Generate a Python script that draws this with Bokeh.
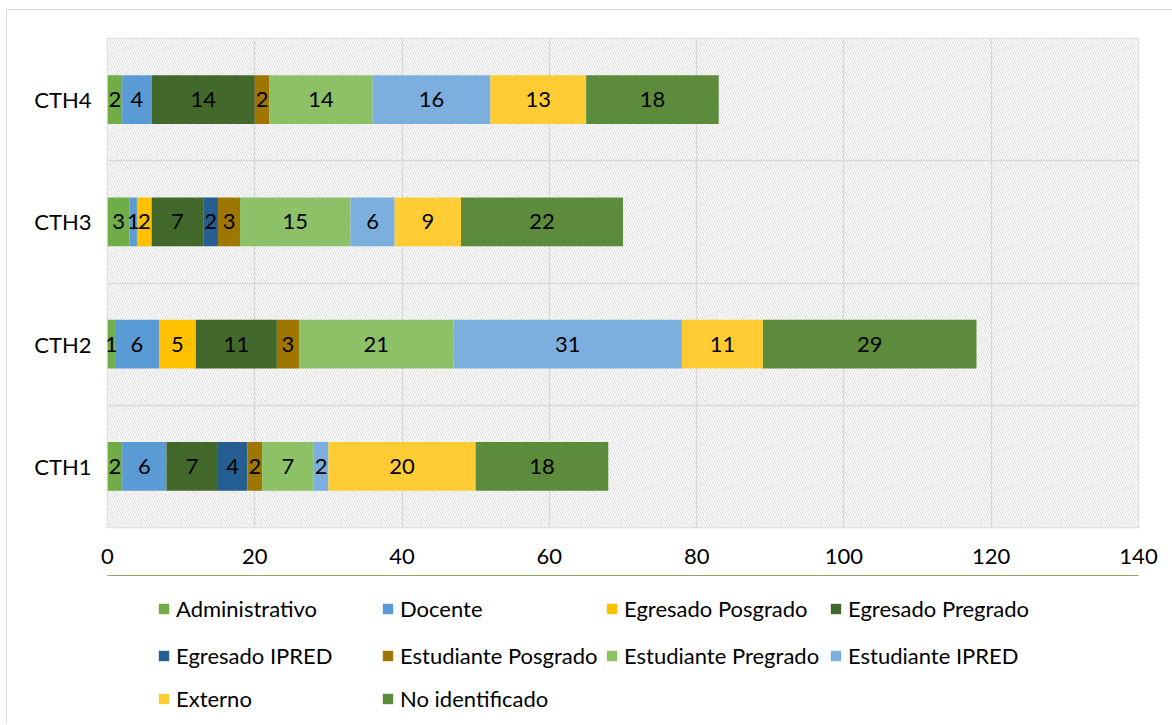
from bokeh.plotting import figure
from bokeh.layouts import column
from bokeh.models import (BoxAnnotation, Legend, LegendItem, FixedTicker, ColumnDataSource,
                          Range1d, CDSView, IndexFilter)
from bokeh.core.properties import value
from bokeh.embed import file_html
from bokeh.resources import INLINE

# ---- data ----
categories = ["CTH1", "CTH2", "CTH3", "CTH4"]
series_names = ["Administrativo", "Docente", "Egresado Posgrado", "Egresado Pregrado",
                "Egresado IPRED", "Estudiante Posgrado", "Estudiante Pregrado",
                "Estudiante IPRED", "Externo", "No identificado"]
administrativo = [2, 1, 3, 2]
docente = [6, 6, 1, 4]
egresado_posgrado = [0, 5, 2, 0]
egresado_pregrado = [7, 11, 7, 14]
egresado_ipred = [4, 0, 2, 0]
estudiante_posgrado = [2, 3, 3, 2]
estudiante_pregrado = [7, 21, 15, 14]
estudiante_ipred = [2, 31, 6, 16]
externo = [20, 11, 9, 13]
no_identificado = [18, 29, 22, 18]
x_ticks = [0, 20, 40, 60, 80, 100, 120, 140]

series_values = [administrativo, docente, egresado_posgrado, egresado_pregrado,
                 egresado_ipred, estudiante_posgrado, estudiante_pregrado,
                 estudiante_ipred, externo, no_identificado]

# ---- styles ----
colors = ["#70AD47", "#5B9BD5", "#FFC000", "#43682B", "#255E91",
          "#9E7600", "#8CC168", "#7CAFDD", "#FFCD33", "#5B8B3B"]
FONT = "Lato"
FS = "22px"
GRID = "#d9d9d9"

keys = ["s%d" % i for i in range(len(series_names))]
ypos = list(range(1, len(categories) + 1))
data = {"y": ypos}
for k, vals in zip(keys, series_values):
    data[k] = vals
src = ColumnDataSource(data)

p = figure(width=1165, height=565, x_range=Range1d(0, 140), y_range=Range1d(0.5, 4.5),
           output_backend="svg", toolbar_location=None,
           min_border_left=100, min_border_right=34, min_border_top=28, min_border_bottom=48)
p.background_fill_color = "white"
p.border_fill_color = "white"

hatch = BoxAnnotation(left=0, right=140, bottom=0.5, top=4.5, fill_color="white", fill_alpha=1,
                      hatch_pattern="\\", hatch_color="#dadada", hatch_scale=5, hatch_weight=1,
                      line_color=None, level="image")
p.add_layout(hatch)

renderers = p.hbar_stack(keys, y="y", height=0.4, color=colors, source=src, line_color=None)

# segment labels
lx, ly, lt = [], [], []
for i, y in enumerate(ypos):
    cum = 0
    for vals in series_values:
        v = vals[i]
        if v > 0:
            lx.append(cum + v / 2)
            ly.append(y)
            lt.append(str(v))
        cum += v
p.text(x=lx, y=ly, text=lt, text_align="center", text_baseline="middle",
       text_font=value(FONT), text_font_size=FS, text_color="black")

# grid
p.xgrid.ticker = FixedTicker(ticks=x_ticks)
p.xgrid.grid_line_color = GRID
p.xgrid.grid_line_width = 1.5
p.ygrid.ticker = FixedTicker(ticks=[1.5, 2.5, 3.5])
p.ygrid.grid_line_color = GRID
p.ygrid.grid_line_width = 1.5
p.outline_line_color = GRID
p.outline_line_width = 1.5

# axes
p.xaxis.ticker = FixedTicker(ticks=x_ticks)
p.yaxis.ticker = FixedTicker(ticks=ypos)
p.yaxis.major_label_overrides = {y: c for y, c in zip(ypos, categories)}
for ax in (p.xaxis[0], p.yaxis[0]):
    ax.axis_line_color = None
    ax.major_tick_line_color = None
    ax.minor_tick_line_color = None
    ax.major_label_text_font = FONT
    ax.major_label_text_font_size = FS
    ax.major_label_text_color = "black"
p.xaxis.major_label_standoff = 15
p.yaxis.major_label_standoff = 10

# ---- legend panel (separate figure, three rows of four) ----
# swatch renderers share the data; one row each, zero height and out of view
q = figure(width=1165, height=148, x_range=Range1d(0, 1), y_range=Range1d(-10, -9),
           output_backend="svg", toolbar_location=None, x_axis_type=None, y_axis_type=None,
           min_border_left=0, min_border_right=0, min_border_top=0, min_border_bottom=0)
q.grid.visible = False
q.outline_line_color = None
q.background_fill_color = "white"
q.border_fill_color = "white"
one_row = CDSView(filter=IndexFilter(indices=[0]))
swatches = [q.hbar(y="y", right=k, height=0, color=c, line_color=None, source=src,
                   view=one_row)
            for k, c in zip(keys, colors)]

row_bottoms = [99, 52, 9]
for r, yb in enumerate(row_bottoms):
    idx = list(range(r * 4, min(r * 4 + 4, len(series_names))))
    items = [LegendItem(label=series_names[i], renderers=[swatches[i]]) for i in idx]
    lg = Legend(items=items, orientation="horizontal", location=(50, yb),
                glyph_width=13, glyph_height=13, label_width=200, label_height=31,
                label_standoff=6, spacing=5, padding=0, margin=0,
                label_text_font=FONT, label_text_font_size=FS, label_text_color="black",
                border_line_color=None, background_fill_alpha=0)
    q.add_layout(lg)

layout = column(p, q, spacing=0)
layout.styles = {"margin-left": "6px", "margin-top": "9px",
                 "border-left": "1px solid #d9d9d9", "border-top": "1px solid #d9d9d9"}

open("out.html", "w").write(file_html(layout, INLINE))
